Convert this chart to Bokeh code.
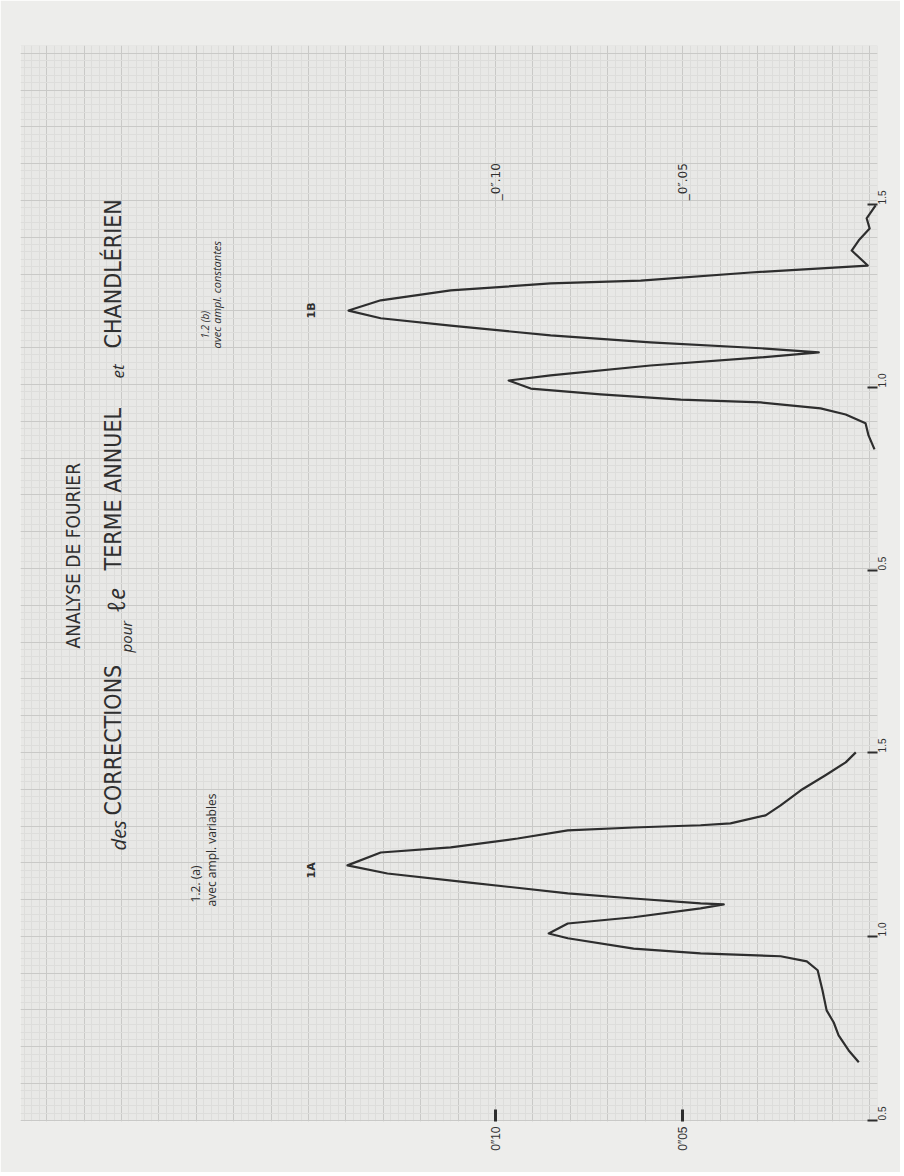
import math
from bokeh.plotting import figure
from bokeh.models import Range1d, FixedTicker, SingleIntervalTicker, Label
from bokeh.core.properties import value
from bokeh.embed import file_html
from bokeh.resources import INLINE

# ---------------- data ----------------
# Panel 1A : "1.2.(a) avec ampl. variables"
freq_1a = [0.658, 0.690, 0.731, 0.766, 0.799, 0.853, 0.908, 0.932, 0.946, 0.954,
           0.967, 0.995, 1.008, 1.035, 1.052, 1.076, 1.087, 1.090, 1.103, 1.117,
           1.147, 1.171, 1.193, 1.228, 1.242, 1.266, 1.288, 1.296, 1.302, 1.307,
           1.329, 1.356, 1.397, 1.438, 1.473, 1.500]
amp_1a = [0.0029, 0.0056, 0.0083, 0.0096, 0.0115, 0.0126, 0.0139, 0.0168, 0.0238, 0.0452,
          0.0631, 0.0807, 0.0858, 0.0807, 0.0631, 0.0452, 0.0390, 0.0452, 0.0631, 0.0807,
          0.1075, 0.1289, 0.1396, 0.1307, 0.1120, 0.0941, 0.0807, 0.0631, 0.0452, 0.0372,
          0.0278, 0.0238, 0.0184, 0.0118, 0.0064, 0.0037]

# Panel 1B : "1.2 (b) avec ampl. constantes"
freq_1b = [0.831, 0.869, 0.902, 0.926, 0.943, 0.959, 0.967, 0.981, 0.997, 1.019,
           1.033, 1.060, 1.082, 1.096, 1.107, 1.123, 1.142, 1.169, 1.189, 1.210,
           1.238, 1.265, 1.284, 1.292, 1.314, 1.333, 1.374, 1.402, 1.434, 1.462,
           1.497]
amp_1b = [-0.0013, 0.0003, 0.0011, 0.0064, 0.0131, 0.0291, 0.0505, 0.0719, 0.0906, 0.0965,
          0.0853, 0.0586, 0.0291, 0.0136, 0.0291, 0.0586, 0.0853, 0.1120, 0.1307, 0.1393,
          0.1307, 0.1120, 0.0853, 0.0612, 0.0318, 0.0005, 0.0048, 0.0029, 0.0000, 0.0008,
          -0.0016]

amp_ticks = [0.10, 0.05]
amp_tick_labels = ["0\u203310", "0\u203305"]
amp_tick_labels_1b = ["_0\u2033.10", "_0\u2033.05"]
freq_ticks = [0.5, 1.0, 1.5]
freq_tick_labels = ["0.5", "1.0", "1.5"]

# ---------------- layout ----------------
W, H = 900, 1172
A_LEFT, A_RIGHT = 0.2270, -0.0021          # amplitude at frame left / right edge
FA0, FA1 = 0.497, 3.421                    # panel 1A frequency at frame bottom / top
FB0, FB1 = -1.005, 1.934                   # panel 1B frequency at frame bottom / top

CAPS = "Liberation Sans Narrow, DejaVu Sans Condensed, Roboto, sans-serif"
HAND = "Open Sans"
INK = "#2e2e2e"

p = figure(width=W, height=H, output_backend="svg", toolbar_location=None,
           x_range=Range1d(A_LEFT, A_RIGHT), y_range=Range1d(FA0, FA1),
           x_axis_location="below", y_axis_location="right",
           min_border_left=20, min_border_right=23, min_border_top=45, min_border_bottom=51,
           background_fill_color="#e8e8e6", border_fill_color="#ededeb",
           outline_line_color=None)
p.extra_y_ranges = {"b": Range1d(FB0, FB1)}

# graph-paper grid
p.xgrid.ticker = SingleIntervalTicker(interval=0.01, num_minor_ticks=5)
p.ygrid.ticker = SingleIntervalTicker(interval=0.1, num_minor_ticks=5)
for g in (p.xgrid, p.ygrid):
    g.grid_line_color = "#c9c9c7"
    g.grid_line_width = 1
    g.minor_grid_line_color = "#dddddb"
    g.minor_grid_line_width = 1

# amplitude axis (bottom, panel 1A)
xa = p.xaxis[0]
xa.ticker = FixedTicker(ticks=amp_ticks)
xa.major_label_overrides = {t: s for t, s in zip(amp_ticks, amp_tick_labels)}
xa.major_label_orientation = math.pi / 2
xa.axis_line_color = None
xa.major_tick_in = 12
xa.major_tick_out = 0
xa.major_tick_line_width = 3
xa.major_tick_line_color = INK
xa.major_label_text_font_size = "12px"
xa.major_label_text_color = "#333333"
xa.major_label_standoff = 5
xa.minor_tick_line_color = None

# frequency axis (right) carrying both panels' ticks
def b_to_a(f):
    return FA0 + (f - FB0) * (FA1 - FA0) / (FB1 - FB0)

ticks, overrides = [], {}
for t, s in zip(freq_ticks, freq_tick_labels):
    if FA0 <= t <= FA1:
        ticks.append(t); overrides[t] = s
    tb = b_to_a(t)
    ticks.append(tb); overrides[tb] = s
ya = p.yaxis[0]
ya.ticker = FixedTicker(ticks=ticks)
ya.major_label_overrides = overrides
ya.major_label_orientation = math.pi / 2
ya.axis_line_color = None
ya.major_tick_in = 10
ya.major_tick_out = 0
ya.major_tick_line_width = 2
ya.major_tick_line_color = INK
ya.major_label_text_font_size = "10px"
ya.major_label_text_color = "#333333"
ya.major_label_standoff = 5
ya.minor_tick_line_color = None

# curves
p.line(amp_1a, freq_1a, line_color=INK, line_width=2.2, line_join="round")
p.line(amp_1b, freq_1b, line_color=INK, line_width=2.2, line_join="round",
       y_range_name="b")

# amplitude tick labels drawn inside panel 1B
p.text(x=amp_ticks, y=[1.511] * len(amp_ticks), text=amp_tick_labels_1b,
       y_range_name="b", angle=math.pi / 2, text_align="left", text_baseline="middle",
       text_font=value("DejaVu Sans"), text_font_size="12px", text_color="#2f2f2f")

# ---------------- annotations ----------------
def amp(xpix):
    return (869 - xpix) / 3740.0

def fa(ypix):
    return 1.0 + (936 - ypix) / 368.0

def fb(ypix):
    return 1.0 + (387 - ypix) / 366.0

def lab(text, xpix, ypix, size, font=CAPS, style="normal", color="#2f2f2f", rng="default"):
    kw = dict(x=amp(xpix), y=(fb(ypix) if rng == "b" else fa(ypix)), text=text,
              angle=math.pi / 2, text_align="left", text_baseline="middle",
              text_font=font, text_font_size=size, text_font_style=style,
              text_color=color)
    if rng == "b":
        kw["y_range_name"] = "b"
    p.add_layout(Label(**kw))

# title
lab("ANALYSE DE FOURIER", 73, 648, "19px")
lab("des", 118, 850, "20px", font=HAND, style="italic")
lab("CORRECTIONS", 113, 815, "23px")
lab("pour", 125, 652, "15px", font=HAND, style="italic")
lab("\u2113e", 115, 612, "24px", font=HAND, style="italic")
lab("TERME  ANNUEL", 113, 570, "23px")
lab("et", 117, 378, "17px", font=HAND, style="italic")
lab("CHANDL\u00c9RIEN", 113, 348, "23px")

# panel captions
lab("1.2 (b)", 204, 338, "10px", font=HAND, style="italic", rng="b")
lab("avec ampl. constantes", 216, 348, "11px", font=HAND, style="italic", rng="b")
lab("1B", 311, 318, "11px", font="DejaVu Sans", style="bold", rng="b")
lab("1.2. (a)", 195, 902, "12px", font=HAND)
lab("avec ampl. variables", 211, 906, "12px", font=HAND)
lab("1A", 311, 878, "11px", font="DejaVu Sans", style="bold")

open("out.html", "w").write(file_html(p, INLINE))
